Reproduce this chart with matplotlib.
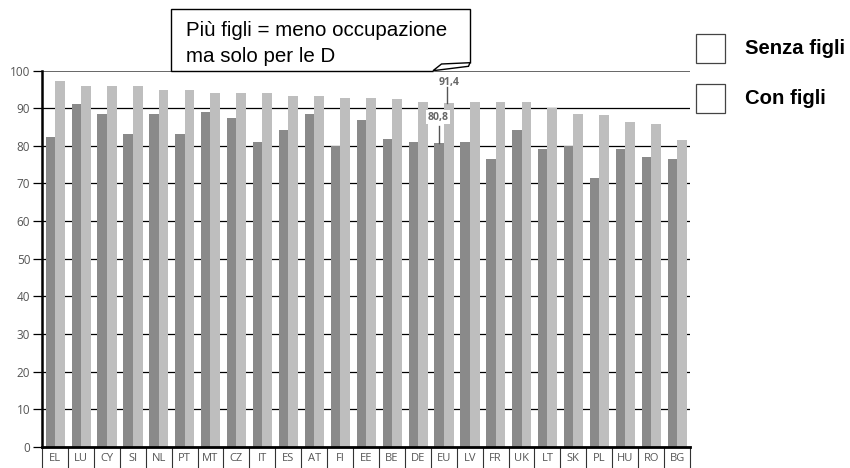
import numpy as np
import matplotlib
matplotlib.use('Agg')
import matplotlib.pyplot as plt
from matplotlib.patches import Rectangle, Polygon

# Data
paesi = ['EL', 'LU', 'CY', 'SI', 'NL', 'PT', 'MT', 'CZ', 'IT', 'ES', 'AT', 'FI', 'EE',
         'BE', 'DE', 'EU', 'LV', 'FR', 'UK', 'LT', 'SK', 'PL', 'HU', 'RO', 'BG']
senza_figli = [82.3, 91.1, 88.4, 83.1, 88.4, 83.1, 88.9, 87.4, 81.1, 84.2, 88.4, 80.0, 86.9,
               81.8, 81.1, 80.8, 81.1, 76.5, 84.2, 79.2, 80.0, 71.4, 79.2, 77.1, 76.5]
con_figli = [97.3, 95.9, 95.9, 95.9, 94.7, 94.7, 94.0, 94.0, 94.0, 93.3, 93.3, 92.7, 92.7,
             92.5, 91.6, 91.4, 91.6, 91.6, 91.6, 90.0, 88.4, 88.1, 86.4, 85.7, 81.6]
y_ticks = [0, 10, 20, 30, 40, 50, 60, 70, 80, 90, 100]

W, H = 850, 468


def fx(px):
    return px / W


def fy(py):
    return 1 - py / H


fig = plt.figure(figsize=(8.5, 4.68), dpi=100)
ax = fig.add_axes([fx(42), fy(447), fx(690) - fx(42), fy(70.5) - fy(447)])

x = np.arange(len(paesi))

# Gridlines behind the bars
for v in y_ticks[1:-1]:
    ax.axhline(v, color='black', lw=0.9, zorder=0)
ax.axhline(100, color='#5a5a5a', lw=1.3, zorder=0)

ax.bar(x - 0.36, senza_figli, width=0.36, align='edge', color='#8a8a8a', zorder=2)
ax.bar(x, con_figli, width=0.38, align='edge', color='#bebebe', zorder=2)

ax.set_xlim(-0.5, len(paesi) - 0.5)
ax.set_ylim(0, 100)

# Axes styling
for s in ['top', 'right']:
    ax.spines[s].set_visible(False)
ax.spines['left'].set_linewidth(1.8)
ax.spines['bottom'].set_linewidth(2)
ax.set_yticks(y_ticks)
ax.tick_params(axis='y', length=6.5, width=0.9, pad=2, labelsize=8.5, labelcolor='#555555')
ax.set_xticks(x)
ax.set_xticklabels(paesi)
ax.tick_params(axis='x', length=0, pad=4.5, labelsize=8, labelcolor='#555555')
for lab in ax.get_xticklabels() + ax.get_yticklabels():
    lab.set_fontfamily('Open Sans')

# Separators between country labels
ax.vlines(np.arange(len(paesi) + 1) - 0.5, -0.06, 0, transform=ax.get_xaxis_transform(),
          color='#333333', lw=0.8, clip_on=False)

# EU value labels
i_eu = paesi.index('EU')
ax.plot([i_eu + 0.14, i_eu + 0.14], [con_figli[i_eu], 95.5], color='#555555', lw=1, zorder=3)
ax.text(i_eu + 0.2, 96.9, '91,4', ha='center', va='center', fontsize=7.5, fontweight='bold',
        color='#666666', family='Open Sans', zorder=4)
ax.plot([i_eu - 0.2, i_eu - 0.2], [senza_figli[i_eu], 85.2], color='#555555', lw=1, zorder=3)
ax.text(i_eu - 0.22, 87.6, '80,8', ha='center', va='center', fontsize=7.5, fontweight='bold',
        color='#666666', family='Open Sans', zorder=4,
        bbox=dict(facecolor='white', edgecolor='none', pad=1))

# Callout box
box = [(433, 70.7), (171, 70.7), (171, 9), (470, 9), (470, 62.7)]
fig.add_artist(Polygon([(fx(a), fy(b)) for a, b in box], closed=False, facecolor='white',
                       edgecolor='black', lw=1, transform=fig.transFigure))
tail = [(433, 70.7), (441.5, 64), (470, 62.7), (468.5, 66.3)]
fig.add_artist(Polygon([(fx(a), fy(b)) for a, b in tail], closed=True, facecolor='white',
                       edgecolor='black', lw=1, transform=fig.transFigure))
fig.text(fx(186), fy(36), 'Più figli = meno occupazione', fontsize=14.8,
         family='Liberation Sans', va='baseline')
fig.text(fx(186), fy(62), 'ma solo per le D', fontsize=14.8,
         family='Liberation Sans', va='baseline')

# Legend (empty boxes)
for top, label in [(34, 'Senza figli'), (84, 'Con figli')]:
    fig.add_artist(Rectangle((fx(696), fy(top + 29)), fx(29), fy(0) - fy(29), facecolor='white',
                             edgecolor='#444444', lw=0.9, transform=fig.transFigure))
    fig.text(fx(745), fy(top + 14.5), label, fontsize=14.6, fontweight='bold',
             family='Liberation Sans', va='center')

fig.savefig('out.png', dpi=100)
